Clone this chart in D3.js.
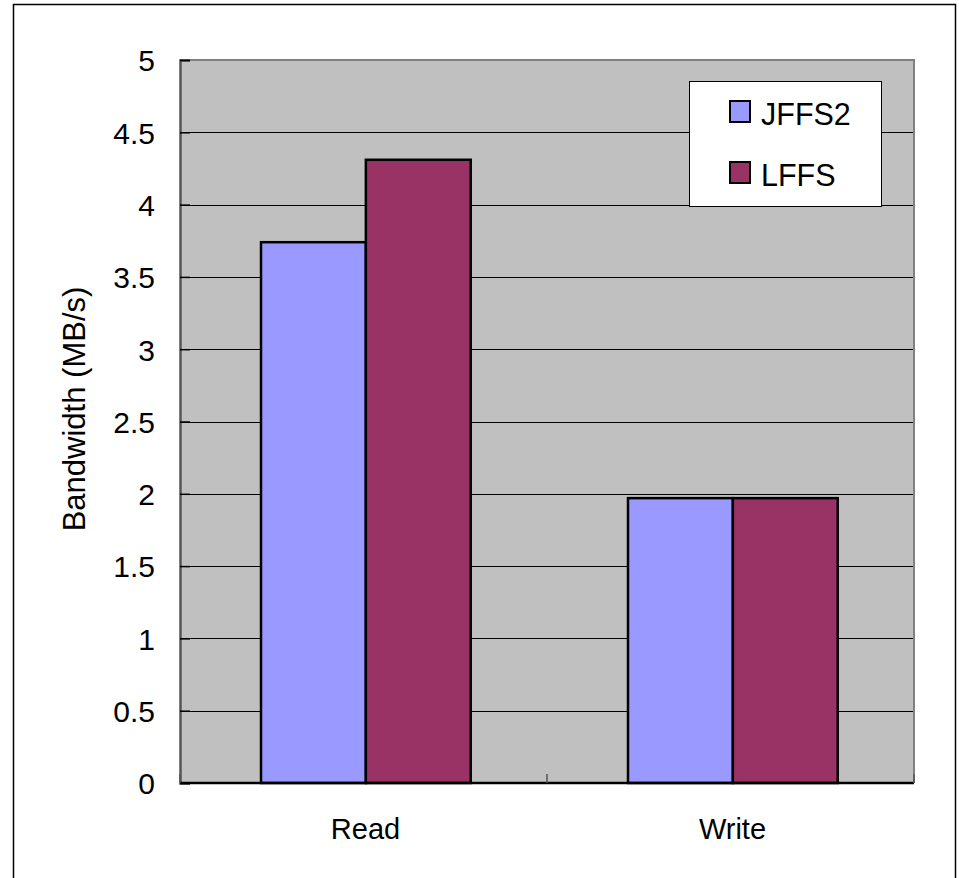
<!DOCTYPE html>
<html>
<head>
<meta charset="utf-8">
<script src="https://cdn.jsdelivr.net/npm/d3@7"></script>
<style>
  html, body { margin: 0; padding: 0; background: #fff; }
  svg { display: block; }
  text { font-family: "Liberation Sans", Arial, sans-serif; fill: #000; }
</style>
</head>
<body>
<svg id="chart" width="959" height="878"></svg>
<script>
const categories = ["Read", "Write"];
const seriesNames = ["JFFS2", "LFFS"];
const jffs2Values = [3.74, 1.97];
const lffsValues = [4.31, 1.97];
const yTicks = [0, 0.5, 1, 1.5, 2, 2.5, 3, 3.5, 4, 4.5, 5];
const seriesColors = ["#9999FF", "#993366"];
const yTitle = "Bandwidth (MB/s)";

const seriesValues = [jffs2Values, lffsValues];
const svg = d3.select("#chart");

// outer chart border
svg.append("rect")
  .attr("x", 13.5).attr("y", 4.5)
  .attr("width", 942).attr("height", 880)
  .attr("fill", "#fff").attr("stroke", "#000").attr("stroke-width", 1.5);

const plot = { left: 180, right: 914, top: 60, bottom: 783 };

const x0 = d3.scaleBand().domain(categories).range([plot.left, plot.right]).paddingInner(0).paddingOuter(0);
const x1 = d3.scaleBand().domain(seriesNames).range([0, x0.bandwidth()]).paddingInner(0).paddingOuter(0.75).align(0.515);
const y = d3.scaleLinear().domain([0, 5]).range([plot.bottom, plot.top]);

// plot area
svg.append("rect")
  .attr("x", plot.left).attr("y", plot.top)
  .attr("width", plot.right - plot.left).attr("height", plot.bottom - plot.top)
  .attr("fill", "#C0C0C0");

// gridlines
svg.append("g")
  .selectAll("line")
  .data(yTicks.filter(d => d > 0 && d < 5))
  .join("line")
  .attr("x1", plot.left).attr("x2", plot.right)
  .attr("y1", d => Math.round(y(d)) + 0.5).attr("y2", d => Math.round(y(d)) + 0.5)
  .attr("stroke", "#000").attr("stroke-width", 1);

// plot border top/right grey
svg.append("path")
  .attr("d", `M${plot.left},${plot.top} H${plot.right} V${plot.bottom}`)
  .attr("fill", "none").attr("stroke", "#808080").attr("stroke-width", 2);

// bars
const groups = svg.append("g")
  .selectAll("g")
  .data(categories)
  .join("g")
  .attr("transform", d => `translate(${x0(d)},0)`);

groups.selectAll("rect")
  .data((c, i) => seriesNames.map((s, j) => ({ s, v: seriesValues[j][i], j })))
  .join("rect")
  .attr("x", d => x1(d.s))
  .attr("width", x1.bandwidth())
  .attr("y", d => y(d.v))
  .attr("height", d => y(0) - y(d.v))
  .attr("fill", d => seriesColors[d.j])
  .attr("stroke", "#000").attr("stroke-width", 2.5);

// y axis
const yAxis = d3.axisLeft(y).tickValues(yTicks).tickSize(-10).tickPadding(24)
  .tickFormat(d => String(d));
const yg = svg.append("g").attr("transform", `translate(${plot.left},0)`).call(yAxis);
yg.select(".domain").attr("stroke", "#555").attr("stroke-width", 2.5);
yg.selectAll(".tick line").attr("stroke", "#000").attr("stroke-width", 1.5);
yg.selectAll(".tick text")
  .attr("font-size", 30).attr("font-family", "Liberation Sans, Arial, sans-serif")
  .attr("dy", "0.36em").attr("x", -25);

// x axis
const xg = svg.append("g").attr("transform", `translate(0,${plot.bottom})`);
xg.append("line")
  .attr("x1", plot.left).attr("x2", plot.right)
  .attr("y1", 0).attr("y2", 0)
  .attr("stroke", "#000").attr("stroke-width", 2.5);
const boundaries = categories.map(c => x0(c)).concat([x0(categories[categories.length - 1]) + x0.bandwidth()]);
xg.selectAll("line.tk")
  .data(boundaries)
  .join("line").attr("class", "tk")
  .attr("x1", d => d).attr("x2", d => d)
  .attr("y1", 0).attr("y2", -9)
  .attr("stroke", "#555").attr("stroke-width", 1.5);
xg.selectAll("text.cat")
  .data(categories)
  .join("text").attr("class", "cat")
  .attr("x", d => x0(d) + x0.bandwidth() / 2 + 2)
  .attr("y", 56)
  .attr("text-anchor", "middle")
  .attr("font-size", 29)
  .text(d => d);

// y title
svg.append("text")
  .attr("transform", `translate(85,409) rotate(-90)`)
  .attr("text-anchor", "middle")
  .attr("font-size", 31)
  .text(yTitle);

// legend
const lg = svg.append("g");
lg.append("rect")
  .attr("x", 689.5).attr("y", 81.5)
  .attr("width", 192).attr("height", 125)
  .attr("fill", "#fff").attr("stroke", "#000").attr("stroke-width", 1);
const items = lg.selectAll("g.item")
  .data(seriesNames)
  .join("g").attr("class", "item")
  .attr("transform", (d, i) => `translate(0,${i * 61})`);
items.append("rect")
  .attr("x", 730).attr("y", 101)
  .attr("width", 20).attr("height", 21)
  .attr("fill", (d, i) => seriesColors[i])
  .attr("stroke", "#000").attr("stroke-width", 2);
items.append("text")
  .attr("x", 761).attr("y", 125)
  .attr("font-size", 30.5)
  .text(d => d);
</script>
</body>
</html>
